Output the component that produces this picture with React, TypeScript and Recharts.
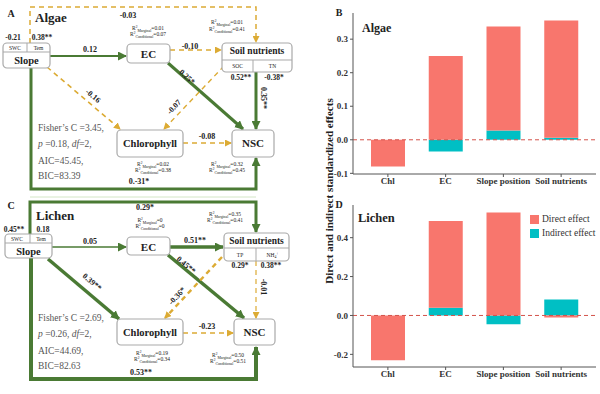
import React from 'react';
import { BarChart, Bar, XAxis, YAxis, ReferenceLine } from 'recharts';

const categories = ['Chl', 'EC', 'Slope position', 'Soil nutrients'];
const algaeDirect = [-0.08, 0.25, 0.31, 0.35];
const algaeIndirect = [0, -0.035, 0.028, 0.006];
const lichenDirect = [-0.23, 0.446, 0.529, -0.01];
const lichenIndirect = [0, 0.04, -0.045, 0.082];
const algaeTicks = [-0.1, 0, 0.1, 0.2, 0.3];
const lichenTicks = [-0.2, 0, 0.2, 0.4];

const algaeData = categories.map((name, i) => ({ name, direct: algaeDirect[i], indirect: algaeIndirect[i] }));
const lichenData = categories.map((name, i) => ({ name, direct: lichenDirect[i], indirect: lichenIndirect[i] }));

const FONT = '"Liberation Serif", "DejaVu Serif", serif';
const RED = '#F8766D';
const TEAL = '#00BFC4';
const GREEN = '#4a7a34';
const YELLOW = '#dcab34';
const BOX = '#a9a9a9';
const FRAME = '#555';

interface EffectChartProps {
  data: any[];
  domain: [number, number];
  ticks: number[];
  height: number;
  marginTop: number;
  axisHeight: number;
}

function EffectChart({ data, domain, ticks, height, marginTop, axisHeight }: EffectChartProps) {
  const tickStyle = { fontFamily: FONT, fontWeight: 'bold', fontSize: 9, fill: '#333' };
  return (
    <BarChart
      width={300}
      height={height}
      data={data}
      stackOffset="sign"
      margin={{ top: marginTop, right: 4, bottom: 0, left: 0 }}
    >
      <XAxis
        dataKey="name"
        interval={0}
        height={axisHeight}
        padding={{ left: 6, right: 6 }}
        tickSize={3}
        tickMargin={1}
        tick={tickStyle}
        axisLine={{ stroke: FRAME }}
        tickLine={{ stroke: FRAME }}
      />
      <XAxis xAxisId="top" orientation="top" height={0} tick={false} tickLine={false} axisLine={{ stroke: FRAME }} />
      <YAxis
        type="number"
        width={53}
        domain={domain}
        ticks={ticks}
        allowDataOverflow
        tickSize={3}
        tickMargin={2}
        tick={tickStyle}
        tickFormatter={(v: number) => v.toFixed(1)}
        axisLine={{ stroke: FRAME }}
        tickLine={{ stroke: FRAME }}
      />
      <YAxis yAxisId="right" orientation="right" width={0} tick={false} tickLine={false} axisLine={{ stroke: FRAME }} />
      <Bar dataKey="indirect" stackId="s" fill={TEAL} barSize={34} isAnimationActive={false} />
      <Bar dataKey="direct" stackId="s" fill={RED} barSize={34} isAnimationActive={false} />
      <ReferenceLine y={0} stroke="#d4534b" strokeDasharray="4 3" strokeWidth={1} />
    </BarChart>
  );
}

// small helpers for the path diagrams
function T({ x, y, s = 8, b = true, a = 'middle', r = 0, fill = '#222', children }: any) {
  return (
    <text
      x={x}
      y={y}
      fontSize={s}
      fontWeight={b ? 'bold' : 'normal'}
      textAnchor={a}
      fill={fill}
      dominantBaseline="central"
      transform={r ? `rotate(${r} ${x} ${y})` : undefined}
    >
      {children}
    </text>
  );
}

function R2({ x, y, label, value }: any) {
  return (
    <text x={x} y={y} fontSize={5.5} textAnchor="middle" fill="#222">
      R<tspan dy={-2} fontSize={3.5}>2</tspan>
      <tspan dy={3.5} fontSize={3.8}>{label}</tspan>
      <tspan dy={-1.5}>={value}</tspan>
    </text>
  );
}

function Box({ x, y, w, h }: any) {
  return <rect x={x} y={y} width={w} height={h} rx={4} fill="#fff" stroke={BOX} strokeWidth={1.2} />;
}

function Arrow({ pts, kind, w }: any) {
  const d = pts.map((p: number[], i: number) => `${i ? 'L' : 'M'}${p[0]},${p[1]}`).join(' ');
  const green = kind === 'g';
  return (
    <path
      d={d}
      fill="none"
      stroke={green ? GREEN : YELLOW}
      strokeWidth={w}
      strokeDasharray={green ? undefined : '5 4'}
      markerEnd={`url(#${green ? 'mg' : 'my'})`}
    />
  );
}

function Fisher({ y, c, p, aic, bic }: any) {
  const st = { fontSize: 9.5, fill: '#555' };
  return (
    <g>
      <text x={38} y={y} {...st}>Fisher’s C ={c},</text>
      <text x={38} y={y + 16} {...st}>
        <tspan fontStyle="italic">p</tspan> ={p}, <tspan fontStyle="italic">df</tspan>=2,
      </text>
      <text x={38} y={y + 33} {...st}>AIC={aic},</text>
      <text x={38} y={y + 48} {...st}>BIC={bic}</text>
    </g>
  );
}

function PanelA() {
  return (
    <g>
      <T x={11} y={13} s={10}>A</T>
      <T x={35} y={17} s={13} a="start">Algae</T>
      {/* outer dashed path */}
      <Arrow pts={[[30, 43], [30, 7], [256, 7], [256, 42]]} kind="y" w={1.5} />
      <T x={128} y={15}>-0.03</T>
      <Arrow pts={[[50, 56], [126, 56]]} kind="g" w={2} />
      <T x={90} y={49}>0.12</T>
      <Arrow pts={[[170, 50], [221, 50]]} kind="y" w={1.6} />
      <T x={190} y={46}>-0.10</T>
      <Arrow pts={[[168, 63], [243, 129]]} kind="g" w={3} />
      <T x={187} y={77} r={42}>0.25*</T>
      <Arrow pts={[[47, 67], [120, 129]]} kind="y" w={1.6} />
      <T x={93} y={96} r={40}>-0.16</T>
      <Arrow pts={[[224, 66], [164, 129]]} kind="y" w={1.4} />
      <T x={174} y={107} r={-47}>-0.07</T>
      <Arrow pts={[[256, 72], [256, 129]]} kind="g" w={3} />
      <T x={263} y={98} r={90}>0.35**</T>
      <Arrow pts={[[183, 143], [231, 143]]} kind="y" w={1.6} />
      <T x={207} y={136}>-0.08</T>
      <Arrow pts={[[31, 68], [31, 189], [256, 189], [256, 158]]} kind="g" w={3} />
      <T x={139} y={181}>0.-31*</T>

      <Box x={3} y={43} w={47} h={25} />
      <line x1={3} y1={52} x2={50} y2={52} stroke={BOX} />
      <line x1={27} y1={43} x2={27} y2={52} stroke={BOX} />
      <T x={15} y={48} s={5.5} b={false}>SWC</T>
      <T x={38.5} y={48} s={5.5} b={false}>Tem</T>
      <T x={26.5} y={60} s={10.5}>Slope</T>
      <T x={13} y={37} s={7.5}>-0.21</T>
      <T x={42} y={37} s={7.5}>0.38**</T>

      <Box x={127} y={44} w={43} h={19} />
      <T x={148.5} y={54} s={11}>EC</T>
      <R2 x={148} y={30} label="Marginal" value="0.01" />
      <R2 x={148} y={36} label="Conditional" value="0.07" />

      <Box x={222} y={43} w={70} h={29} />
      <line x1={222} y1={60} x2={292} y2={60} stroke={BOX} />
      <line x1={253} y1={60} x2={253} y2={72} stroke={BOX} />
      <T x={257} y={51} s={9.5}>Soil nutrients</T>
      <T x={237.5} y={66} s={5.5} b={false}>SOC</T>
      <T x={272.5} y={66} s={5.5} b={false}>TN</T>
      <R2 x={227} y={24} label="Marginal" value="0.01" />
      <R2 x={227} y={31} label="Conditional" value="0.41" />
      <T x={241} y={77} s={7.5}>0.52**</T>
      <T x={274} y={77} s={7.5}>-0.38*</T>

      <Box x={117} y={130} w={66} h={27} />
      <T x={150} y={143} s={10.5}>Chlorophyll</T>
      <R2 x={153} y={166} label="Marginal" value="0.02" />
      <R2 x={153} y={172} label="Conditional" value="0.38" />

      <Box x={232} y={130} w={42} h={27} />
      <T x={253} y={143} s={11}>NSC</T>
      <R2 x={227} y={166} label="Marginal" value="0.32" />
      <R2 x={227} y={172} label="Conditional" value="0.45" />

      <Fisher y={131} c="3.45" p="0.18" aic="45.45" bic="83.39" />
      <line x1={30} y1={197} x2={256} y2={197} stroke="#d3e6c6" strokeWidth={1} />
    </g>
  );
}

function PanelC() {
  return (
    <g>
      <T x={11} y={205} s={10}>C</T>
      <T x={36} y={215} s={13} a="start">Lichen</T>
      <Arrow pts={[[30, 234], [30, 202], [256, 202], [256, 232]]} kind="g" w={3} />
      <T x={145} y={207}>0.29*</T>
      <Arrow pts={[[52, 247], [126, 247]]} kind="g" w={1.5} />
      <T x={90} y={241}>0.05</T>
      <Arrow pts={[[170, 247], [223, 247]]} kind="g" w={3.5} />
      <T x={195} y={240}>0.51**</T>
      <Arrow pts={[[168, 255], [244, 318]]} kind="g" w={3.5} />
      <T x={186} y={265} r={40}>0.45**</T>
      <Arrow pts={[[48, 259], [119, 319]]} kind="g" w={3.5} />
      <T x={92} y={282} r={40}>0.39**</T>
      <Arrow pts={[[222, 257], [165, 318]]} kind="y" w={2.4} />
      <T x={177} y={296} r={-47}>-0.36*</T>
      <Arrow pts={[[256, 261], [256, 318]]} kind="y" w={1.2} />
      <T x={263} y={287} r={90}>-0.01</T>
      <Arrow pts={[[183, 333], [233, 333]]} kind="y" w={1.6} />
      <T x={207} y={326}>-0.23</T>
      <Arrow pts={[[31, 258], [31, 379], [256, 379], [256, 347]]} kind="g" w={4} />
      <T x={141} y={372}>0.53**</T>

      <Box x={5} y={234} w={47} h={24} />
      <line x1={5} y1={243} x2={52} y2={243} stroke={BOX} />
      <line x1={30} y1={234} x2={30} y2={243} stroke={BOX} />
      <T x={17} y={239} s={5.5} b={false}>SWC</T>
      <T x={41} y={239} s={5.5} b={false}>Tem</T>
      <T x={28.5} y={251} s={10.5}>Slope</T>
      <T x={14} y={229} s={7.5}>0.45**</T>
      <T x={43} y={229} s={7.5}>0.18</T>

      <Box x={127} y={237} w={43} h={18} />
      <T x={148.5} y={246.5} s={11}>EC</T>
      <R2 x={150} y={222} label="Marginal" value="0" />
      <R2 x={150} y={228} label="Conditional" value="0" />

      <Box x={224} y={233} w={65} h={28} />
      <line x1={224} y1={248} x2={289} y2={248} stroke={BOX} />
      <line x1={256} y1={248} x2={256} y2={261} stroke={BOX} />
      <T x={256.5} y={240.5} s={9.5}>Soil nutrients</T>
      <T x={240} y={254.5} s={5.5} b={false}>TP</T>
      <text x={272.5} y={256.5} fontSize={5.5} textAnchor="middle" fill="#222">
        NH<tspan dy={1.5} fontSize={3.8}>4</tspan><tspan dy={-3.5} fontSize={3.8}>+</tspan>
      </text>
      <R2 x={225} y={216} label="Marginal" value="0.35" />
      <R2 x={225} y={222} label="Conditional" value="0.41" />
      <T x={240} y={265} s={7.5}>0.29*</T>
      <T x={271} y={265} s={7.5}>0.38**</T>

      <Box x={117} y={319} w={66} h={26} />
      <T x={150} y={332} s={10.5}>Chlorophyll</T>
      <R2 x={152} y={355} label="Marginal" value="0.19" />
      <R2 x={152} y={361} label="Conditional" value="0.34" />

      <Box x={234} y={319} w={41} h={26} />
      <T x={254.5} y={332} s={11}>NSC</T>
      <R2 x={228} y={357} label="Marginal" value="0.50" />
      <R2 x={228} y={363} label="Conditional" value="0.51" />

      <Fisher y={321} c="2.69" p="0.26" aic="44.69" bic="82.63" />
    </g>
  );
}

function LegendBox() {
  const item = (color: string, label: string) => (
    <div style={{ display: 'flex', alignItems: 'center', height: 14 }}>
      <span style={{ width: 9, height: 9, background: color, marginRight: 3 }} />
      <span style={{ fontSize: 9.5, color: '#333' }}>{label}</span>
    </div>
  );
  return (
    <div style={{ position: 'absolute', left: 530, top: 212, fontFamily: FONT }}>
      {item(RED, 'Direct effect')}
      {item(TEAL, 'Indirect effect')}
    </div>
  );
}

export default function App() {
  return (
    <div style={{ position: 'fixed', left: 0, top: 0, width: 600, height: 394, background: '#fff', fontFamily: FONT }}>
      <div style={{ position: 'absolute', left: 300, top: 0 }}>
        <EffectChart data={algaeData} domain={[-0.102, 0.378]} ticks={algaeTicks} height={192} marginTop={13} axisHeight={18} />
      </div>
      <div style={{ position: 'absolute', left: 300, top: 190 }}>
        <EffectChart data={lichenData} domain={[-0.265, 0.568]} ticks={lichenTicks} height={194} marginTop={15} axisHeight={17} />
      </div>
      <LegendBox />
      <svg width={600} height={394} style={{ position: 'absolute', left: 0, top: 0, pointerEvents: 'none', fontFamily: FONT }}>
        <defs>
          <marker id="mg" markerUnits="userSpaceOnUse" markerWidth={9} markerHeight={9} refX={8} refY={4.5} orient="auto">
            <path d="M0,0 L9,4.5 L0,9 z" fill={GREEN} />
          </marker>
          <marker id="my" markerUnits="userSpaceOnUse" markerWidth={7} markerHeight={7} refX={6} refY={3.5} orient="auto">
            <path d="M0,0 L7,3.5 L0,7 z" fill={YELLOW} />
          </marker>
        </defs>
        <PanelA />
        <PanelC />
        <T x={339} y={12} s={10}>B</T>
        <T x={339} y={204} s={10}>D</T>
        <T x={362} y={28} s={12} a="start">Algae</T>
        <T x={358} y={218} s={12.5} a="start">Lichen</T>
        <T x={329} y={191} s={11} r={-90}>Direct and indirect standardized effects</T>
      </svg>
    </div>
  );
}
